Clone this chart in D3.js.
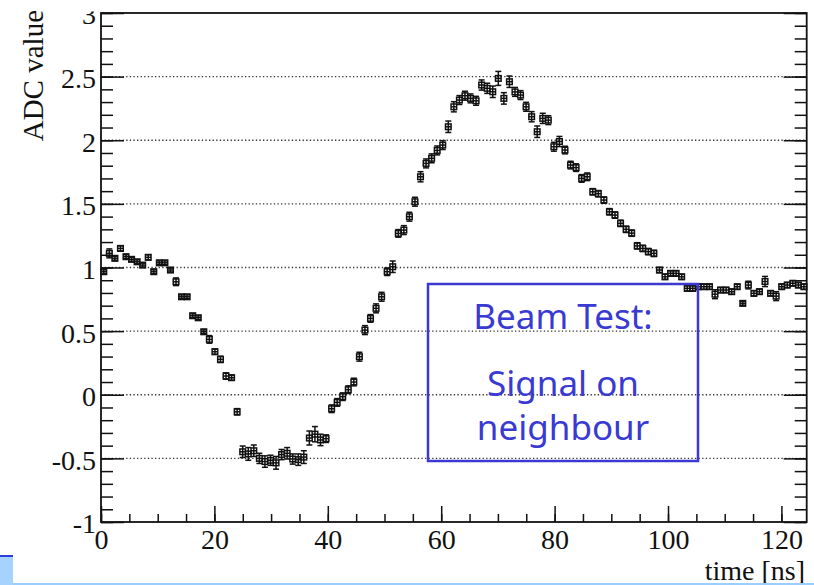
<!DOCTYPE html>
<html>
<head>
<meta charset="utf-8">
<script src="https://cdn.jsdelivr.net/npm/d3@7/dist/d3.min.js"></script>
<style>
  html, body { margin: 0; padding: 0; background: #fff; }
  svg { display: block; }
</style>
</head>
<body>
<script>
// ---- data (bin centres in ns, ADC values, errors) ----
const times = [0.49,1.47,2.45,3.43,4.41,5.39,6.37,7.35,8.33,9.31,10.29,11.27,12.25,13.23,14.21,15.19,16.17,17.15,18.13,19.11,
20.09,21.07,22.05,23.03,24.01,24.99,25.97,26.95,27.93,28.91,29.89,30.87,31.85,32.83,33.81,34.79,35.77,36.75,37.73,38.71,
39.69,40.67,41.65,42.63,43.61,44.59,45.57,46.55,47.53,48.51,49.49,50.47,51.45,52.43,53.41,54.39,55.37,56.35,57.33,58.31,
59.29,60.27,61.25,62.23,63.21,64.19,65.17,66.15,67.13,68.11,69.09,70.07,71.05,72.03,73.01,73.99,74.97,75.95,76.93,77.91,
78.89,79.87,80.85,81.83,82.81,83.79,84.77,85.75,86.73,87.71,88.69,89.67,90.65,91.63,92.61,93.59,94.57,95.55,96.53,97.51,
98.49,99.47,100.45,101.43,102.41,103.39,104.37,105.35,106.33,107.31,108.29,109.27,110.25,111.23,112.21,113.19,114.17,115.15,116.13,117.11,
118.09,119.07,120.05,121.03,122.01,122.99,123.97];

const adc = [0.967,1.111,1.072,1.150,1.085,1.064,1.045,1.019,1.080,0.967,1.037,1.037,0.980,0.888,0.770,0.770,0.621,0.605,0.495,0.435,
0.338,0.278,0.147,0.134,-0.134,-0.448,-0.465,-0.440,-0.500,-0.525,-0.515,-0.535,-0.470,-0.460,-0.505,-0.510,-0.490,-0.340,-0.310,-0.355,
-0.345,-0.110,-0.060,-0.015,0.040,0.100,0.299,0.508,0.600,0.679,0.770,0.967,1.006,1.268,1.294,1.399,1.517,1.713,1.818,1.858,
1.920,1.962,2.106,2.263,2.316,2.350,2.329,2.310,2.434,2.408,2.381,2.486,2.329,2.460,2.380,2.355,2.263,2.185,2.067,2.172,
2.158,1.949,1.990,1.923,1.805,1.785,1.700,1.713,1.595,1.580,1.530,1.438,1.412,1.347,1.300,1.270,1.170,1.150,1.125,1.111,
0.980,0.927,0.954,0.954,0.927,0.836,0.836,0.849,0.849,0.849,0.790,0.823,0.823,0.810,0.849,0.718,0.862,0.797,0.810,0.890,
0.797,0.775,0.849,0.862,0.876,0.862,0.849];

const errs = [0.015,0.035,0.015,0.02,0.015,0.015,0.015,0.015,0.02,0.015,0.015,0.015,0.015,0.03,0.015,0.015,0.015,0.015,0.015,0.03,
0.02,0.025,0.025,0.02,0.025,0.045,0.05,0.045,0.04,0.045,0.04,0.05,0.04,0.045,0.04,0.045,0.05,0.055,0.06,0.045,
0.03,0.03,0.03,0.03,0.03,0.03,0.035,0.035,0.03,0.035,0.035,0.03,0.045,0.03,0.035,0.035,0.035,0.04,0.035,0.035,
0.035,0.035,0.045,0.04,0.035,0.035,0.035,0.035,0.04,0.04,0.045,0.055,0.045,0.045,0.035,0.035,0.035,0.04,0.045,0.04,
0.035,0.035,0.04,0.03,0.03,0.03,0.03,0.03,0.025,0.025,0.025,0.025,0.025,0.025,0.025,0.025,0.025,0.025,0.025,0.025,
0.02,0.02,0.02,0.02,0.02,0.02,0.02,0.02,0.02,0.02,0.035,0.02,0.02,0.02,0.02,0.015,0.03,0.02,0.02,0.04,
0.02,0.035,0.02,0.02,0.02,0.02,0.02];

const halfBin = 0.49;
const xMajorTicks = [0, 20, 40, 60, 80, 100, 120];
const yMajorTicks = [-1, -0.5, 0, 0.5, 1, 1.5, 2, 2.5, 3];
const gridValues = [-0.5, 0, 0.5, 1, 1.5, 2, 2.5];
const xTitle = "time [ns]";
const yTitle = "ADC value";
const noteLines = ["Beam Test:", "Signal on", "neighbour"];

// ---- layout ----
const W = 814, H = 585;
const plot = { left: 101, right: 806.7, top: 13, bottom: 522 };
const serif = "'Liberation Serif', 'Times New Roman', Times, serif";
const blue = "#3a3ad2";

const svg = d3.select("body").append("svg").attr("width", W).attr("height", H);

const x = d3.scaleLinear().domain([0, 124.46]).range([plot.left, plot.right]);
const y = d3.scaleLinear().domain([-1, 3]).range([plot.bottom, plot.top]);

const xMinor = d3.range(0, 124, 5);
const yMinor = d3.range(-10, 31).map(d => d / 10);

// grid (dotted)
svg.append("g").selectAll("line").data(gridValues).join("line")
  .attr("x1", plot.left).attr("x2", plot.right)
  .attr("y1", d => y(d)).attr("y2", d => y(d))
  .attr("stroke", "#333").attr("stroke-width", 1.3)
  .attr("stroke-dasharray", "1.3,2.3");

function styleAxis(g) {
  g.select(".domain").remove();
  g.selectAll(".tick line").attr("stroke", "#111").attr("stroke-width", 1.5);
  g.selectAll("text").attr("font-family", serif).attr("font-size", 28).attr("fill", "#111");
}

// left axis
svg.append("g").attr("transform", `translate(${plot.left},0)`)
  .call(d3.axisLeft(y).tickValues(yMinor).tickSize(-12).tickFormat(""))
  .call(styleAxis);
svg.append("g").attr("transform", `translate(${plot.left},0)`)
  .call(d3.axisLeft(y).tickValues(yMajorTicks).tickSize(-23).tickPadding(5).tickFormat(d => String(d)))
  .call(styleAxis)
  .call(g => g.selectAll("text").attr("dy", "0.39em"));

// right axis (ticks only)
svg.append("g").attr("transform", `translate(${plot.right},0)`)
  .call(d3.axisRight(y).tickValues(yMinor).tickSize(-12).tickFormat(""))
  .call(styleAxis);
svg.append("g").attr("transform", `translate(${plot.right},0)`)
  .call(d3.axisRight(y).tickValues(yMajorTicks).tickSize(-23).tickFormat(""))
  .call(styleAxis);

// bottom axis
svg.append("g").attr("transform", `translate(0,${plot.bottom})`)
  .call(d3.axisBottom(x).tickValues(xMinor).tickSize(-8).tickFormat(""))
  .call(styleAxis);
svg.append("g").attr("transform", `translate(0,${plot.bottom})`)
  .call(d3.axisBottom(x).tickValues(xMajorTicks).tickSize(-16).tickPadding(7).tickFormat(d => String(d)))
  .call(styleAxis);

// frame
svg.append("rect")
  .attr("x", plot.left).attr("y", plot.top)
  .attr("width", plot.right - plot.left).attr("height", plot.bottom - plot.top)
  .attr("fill", "none").attr("stroke", "#111").attr("stroke-width", 1.8);

// mask cutting the top of the "3" label as in the reference
svg.append("rect").attr("x", 60).attr("y", 0).attr("width", 40).attr("height", 11.5).attr("fill", "#fff");

// axis titles
svg.append("text")
  .attr("transform", "translate(43,10) rotate(-90)")
  .attr("text-anchor", "end")
  .attr("font-family", serif).attr("font-size", 29).attr("fill", "#111")
  .text(yTitle);
svg.append("text")
  .attr("x", 805).attr("y", 580)
  .attr("text-anchor", "end")
  .attr("font-family", serif).attr("font-size", 28).attr("fill", "#111")
  .text(xTitle);

// data points with error bars
const pts = times.map((t, i) => ({ t, v: adc[i], e: errs[i] }));
const gp = svg.append("g").attr("stroke", "#111").attr("stroke-width", 1.5).attr("fill", "none");
const pg = gp.selectAll("g").data(pts).join("g");
pg.append("line")
  .attr("x1", d => x(d.t)).attr("x2", d => x(d.t))
  .attr("y1", d => y(d.v - d.e)).attr("y2", d => y(d.v + d.e));
pg.append("line")
  .attr("x1", d => x(d.t - halfBin)).attr("x2", d => x(d.t + halfBin))
  .attr("y1", d => y(d.v)).attr("y2", d => y(d.v));
pg.append("line")
  .attr("x1", d => x(d.t) - 3).attr("x2", d => x(d.t) + 3)
  .attr("y1", d => y(d.v - d.e)).attr("y2", d => y(d.v - d.e));
pg.append("line")
  .attr("x1", d => x(d.t) - 3).attr("x2", d => x(d.t) + 3)
  .attr("y1", d => y(d.v + d.e)).attr("y2", d => y(d.v + d.e));
pg.append("rect")
  .attr("x", d => x(d.t) - 2.8).attr("y", d => y(d.v) - 2.8)
  .attr("width", 5.6).attr("height", 5.6);

// annotation box
svg.append("rect")
  .attr("x", 428).attr("y", 284).attr("width", 270).attr("height", 177)
  .attr("fill", "none").attr("stroke", blue).attr("stroke-width", 2.5);
const noteY = [329, 396, 440];
svg.append("g").selectAll("text").data(noteLines).join("text")
  .attr("x", 563).attr("y", (d, i) => noteY[i])
  .attr("text-anchor", "middle")
  .attr("font-family", "'Comic Sans MS', 'Noto Sans', sans-serif")
  .attr("font-size", 35).attr("fill", blue)
  .text(d => d);

// slide residue at the bottom
svg.append("rect").attr("x", 0).attr("y", 583).attr("width", W).attr("height", 2).attr("fill", "#9ccdff");
svg.append("rect").attr("x", 0).attr("y", 555).attr("width", 13).attr("height", 30).attr("fill", "#a6d2ff");
svg.append("rect").attr("x", 0).attr("y", 555).attr("width", 13).attr("height", 2).attr("fill", "#2b3fd6");
</script>
</body>
</html>
